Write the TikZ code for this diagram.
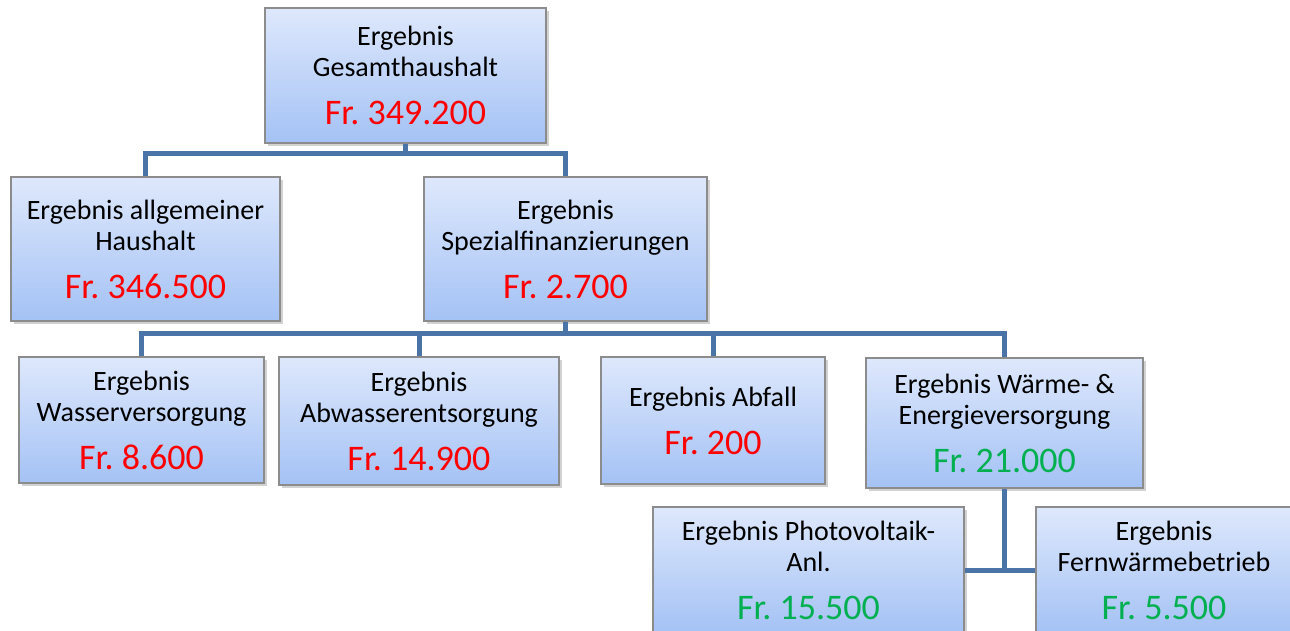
\documentclass[tikz,border=0pt]{standalone}
\usepackage{fontspec}
\setmainfont{Carlito}
\usepackage{xcolor}
\usetikzlibrary{shadows}
\frenchspacing
\definecolor{boxtop}{RGB}{222,232,252}
\definecolor{boxbot}{RGB}{164,194,245}
\definecolor{linkblue}{RGB}{74,115,168}
\definecolor{okgreen}{RGB}{0,176,80}
\newcommand{\redval}[1]{{\fontsize{36}{36}\selectfont\color{red}#1}}
\newcommand{\greenval}[1]{{\fontsize{36}{36}\selectfont\color{okgreen}#1}}

\begin{document}
\begin{tikzpicture}[x=1pt,y=-1pt,
    box/.style={draw=black!45,line width=1.2pt,top color=boxtop,bottom color=boxbot,
      drop shadow={shadow xshift=3pt,shadow yshift=-3pt,opacity=0.35},
      align=center,inner sep=0pt,font=\fontsize{28}{31}\selectfont},
    link/.style={draw=linkblue,line width=5pt}]
    \fill[white] (0,0) rectangle (1290,630);
    \useasboundingbox (0,0) rectangle (1290,630);
    % top level
    \node[box,minimum width=281pt,minimum height=135pt] (ges) at (405.5,75.5) {Ergebnis\\Gesamthaushalt\\[17pt]\redval{Fr. 349.200}};
    % second level
    \node[box,minimum width=269pt,minimum height=144pt] (allg) at (145.5,249) {Ergebnis allgemeiner\\Haushalt\\[17pt]\redval{Fr. 346.500}};
    \node[box,minimum width=283pt,minimum height=144pt] (spez) at (565.5,249) {Ergebnis\\Spezialfinanzierungen\\[17pt]\redval{Fr. 2.700}};
    % third level
    \node[box,minimum width=245pt,minimum height=126pt] (wasser) at (141.5,420) {Ergebnis\\Wasserversorgung\\[17pt]\redval{Fr. 8.600}};
    \node[box,minimum width=280pt,minimum height=128pt] (abw) at (419,421) {Ergebnis\\Abwasserentsorgung\\[17pt]\redval{Fr. 14.900}};
    \node[box,minimum width=224pt,minimum height=127pt] (abf) at (713,420.5) {Ergebnis Abfall\\[17pt]\redval{Fr. 200}};
    \node[box,minimum width=277pt,minimum height=130pt] (waerme) at (1004.5,423) {Ergebnis Wärme- \&\\Energieversorgung\\[17pt]\greenval{Fr. 21.000}};
    % fourth level
    \node[box,minimum width=311pt,minimum height=126pt] (pv) at (808.5,570) {Ergebnis Photovoltaik-\\Anl.\\[17pt]\greenval{Fr. 15.500}};
    \node[box,minimum width=256pt,minimum height=126pt] (fern) at (1164,570) {Ergebnis\\Fernwärmebetrieb\\[17pt]\greenval{Fr. 5.500}};
    % connectors
    \draw[link] (ges.south) -- ++(0,10) coordinate (j1);
    \draw[link] (allg.north) |- (j1) -| (spez.north);
    \draw[link] (spez.south) -- ++(0,12) coordinate (j2);
    \draw[link] (wasser.north) |- (j2) -| (waerme.north);
    \draw[link] (abw.north) -- (abw.north |- j2);
    \draw[link] (abf.north) -- (abf.north |- j2);
    \draw[link] (waerme.south) -- (waerme.south |- pv.east);
    \draw[link] (pv.east) -- (fern.west);
\end{tikzpicture}
\end{document}
